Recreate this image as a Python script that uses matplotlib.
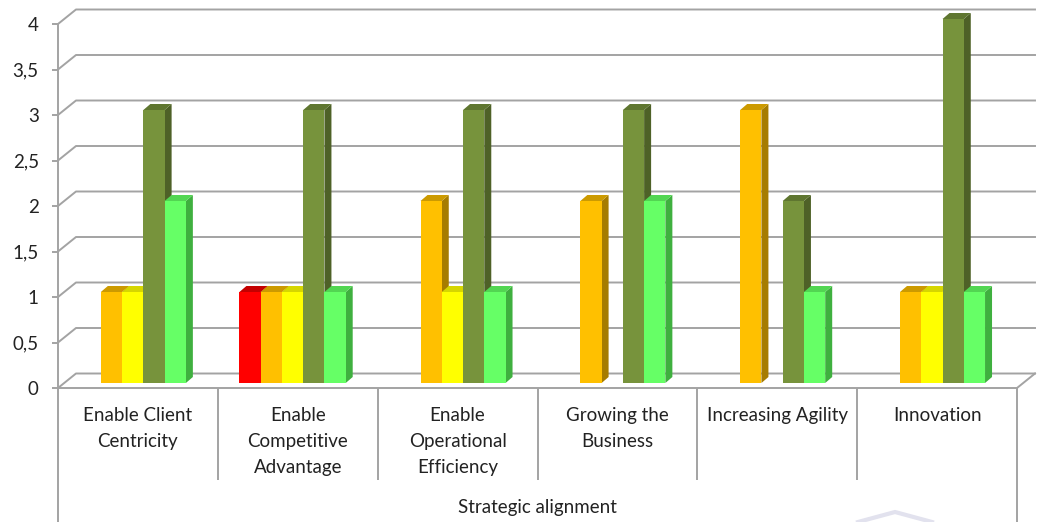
import numpy as np
import matplotlib
matplotlib.use("Agg")
import matplotlib.pyplot as plt
from matplotlib.patches import Polygon
from matplotlib.lines import Line2D
from matplotlib.transforms import ScaledTranslation, IdentityTransform

plt.rcParams['font.family'] = ['Lato', 'DejaVu Sans']

categories = ["Enable Client\nCentricity", "Enable\nCompetitive\nAdvantage",
              "Enable\nOperational\nEfficiency", "Growing the\nBusiness",
              "Increasing Agility", "Innovation"]
red    = [0, 1, 0, 0, 0, 0]
orange = [1, 1, 2, 2, 3, 1]
yellow = [1, 1, 1, 0, 0, 1]
olive  = [3, 3, 3, 3, 2, 4]
green  = [2, 1, 1, 2, 1, 1]
yticks = [0, 0.5, 1, 1.5, 2, 2.5, 3, 3.5, 4]
ytick_labels = ["0", "0,5", "1", "1,5", "2", "2,5", "3", "3,5", "4"]
axis_title = "Strategic alignment"

series = [red, orange, yellow, olive, green]
# front, top, side colours of each series
faces = [("#FF0000", "#C40000", "#9E0000"),
         ("#FFC000", "#CC9A00", "#A67C00"),
         ("#FFFF00", "#D6D600", "#ABAB00"),
         ("#77933C", "#5F7630", "#4E6127"),
         ("#66FF66", "#52D652", "#3FB03F")]

W, H, DPI = 1041, 522, 100
fig = plt.figure(figsize=(W / DPI, H / DPI), dpi=DPI)
fig.patch.set_facecolor("white")

x0, x1, y0, y4 = 58, 1017, 388, 24
ax = fig.add_axes([x0 / W, 1 - y0 / H, (x1 - x0) / W, (y0 - y4) / H])
ax.set_xlim(0, 6)
ax.set_ylim(0, 4)
ax.patch.set_alpha(0)

grid = "#A3A3A3"
txt = "#222222"
fs = 13.5
lw = 1.4
wall_dx, wall_dy = 18, 14.5   # depth of the back wall, pixels
bar_dx, bar_dy = 7, 6         # depth of a column
lift = 5                      # columns stand a little behind the front edge


def px(x, y, dx=0, dy=0):
    p = ax.transData.transform((x, y))
    return (p[0] + dx, p[1] + dy)


ident = IdentityTransform()

# back wall gridlines with their left-wall diagonals
for v in yticks:
    a = px(0, v)
    b = px(0, v, wall_dx, wall_dy)
    c = px(6, v, wall_dx, wall_dy)
    ax.add_line(Line2D([a[0], b[0], c[0]], [a[1], b[1], c[1]], color=grid,
                       lw=lw, transform=ident, clip_on=False, zorder=1))
# floor front edge and right edge
a, b, c = px(0, 0), px(6, 0), px(6, 0, wall_dx, wall_dy)
ax.add_line(Line2D([a[0], b[0], c[0]], [a[1], b[1], c[1]], color=grid,
                   lw=lw, transform=ident, clip_on=False, zorder=1))

# columns
width = 0.133
start = 0.135
for k, (vals, (front, top, side)) in enumerate(zip(series, faces)):
    pos = np.arange(len(categories)) + start + k * width
    shift = ax.transData + ScaledTranslation(0, lift / DPI, fig.dpi_scale_trans)
    for i, (xl, v) in enumerate(zip(pos, vals)):
        if v == 0:
            continue
        z = 2 + i * 10 + k
        br = px(xl + width, 0, 0, lift)
        tl = px(xl, v, 0, lift)
        tr = px(xl + width, v, 0, lift)
        ax.add_patch(Polygon([br, (br[0] + bar_dx, br[1] + bar_dy),
                              (tr[0] + bar_dx, tr[1] + bar_dy), tr],
                             closed=True, fc=side, ec="none", transform=ident,
                             clip_on=False, zorder=z))
        ax.add_patch(Polygon([tl, tr, (tr[0] + bar_dx, tr[1] + bar_dy),
                              (tl[0] + bar_dx, tl[1] + bar_dy)],
                             closed=True, fc=top, ec="none", transform=ident,
                             clip_on=False, zorder=z))
    bars = ax.bar(pos, vals, width=width, align="edge", color=front,
                  linewidth=0, transform=shift)
    for i, b in enumerate(bars):
        b.set_zorder(2.5 + i * 10 + k)
        b.set_clip_on(False)
        if vals[i] == 0:
            b.set_visible(False)

# axes
for s in ["top", "right", "bottom"]:
    ax.spines[s].set_visible(False)
ax.spines["left"].set_color(grid)
ax.spines["left"].set_linewidth(lw)
ax.set_yticks(yticks, ytick_labels)
ax.tick_params(axis="y", length=4.3, width=lw, color=grid, pad=9.5,
               labelsize=fs, labelcolor=txt)
ax.set_xticks(np.arange(len(categories)) + 0.5, categories)
ax.tick_params(axis="x", length=0, pad=14, labelsize=fs, labelcolor=txt)
for lbl in ax.get_xticklabels():
    lbl.set_verticalalignment("top")
    lbl.set_linespacing(1.62)

# category table below the floor
xt = ax.get_xaxis_transform()
inner_bottom = -(480 - y0) / (y0 - y4)
outer_bottom = -(H - y0) / (y0 - y4)
ax.vlines(np.arange(1, len(categories)), inner_bottom, 0, color=grid, lw=lw,
          transform=xt, clip_on=False)
ax.vlines([0, len(categories)], outer_bottom, 0, color=grid, lw=lw,
          transform=xt, clip_on=False)
ax.text(3, -(508 - y0) / (y0 - y4), axis_title, transform=xt, ha="center",
        va="center", fontsize=fs, color=txt)

# faint mark near the bottom edge
fig.add_artist(Line2D([858 / W, 895 / W, 932 / W], [0, 10 / H, 0],
                      color="#E2E2EE", lw=3, transform=fig.transFigure))

fig.savefig("out.png", dpi=DPI, facecolor="white")
